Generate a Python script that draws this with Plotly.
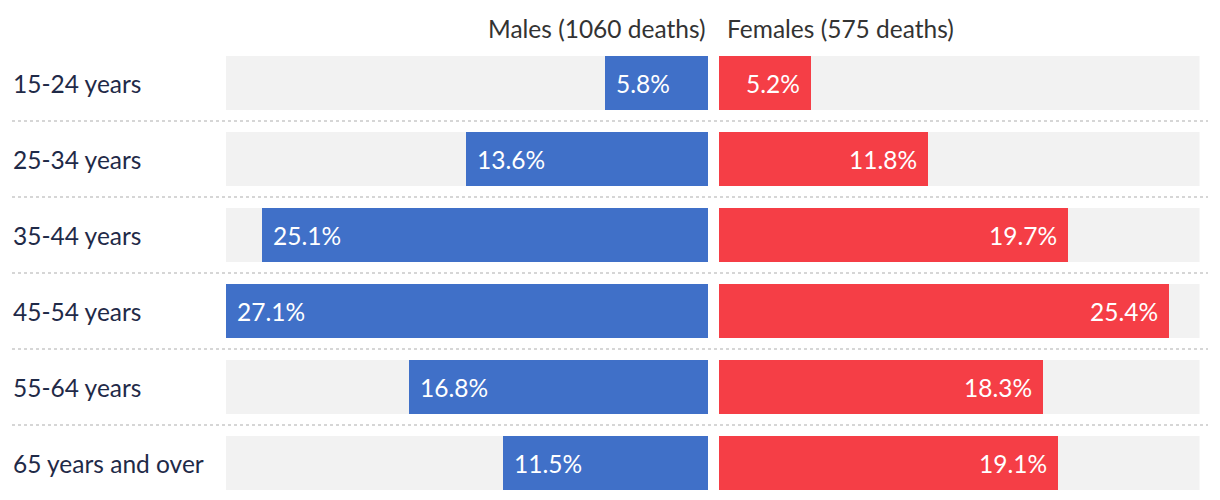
import plotly.graph_objects as go

categories = ["15-24 years", "25-34 years", "35-44 years", "45-54 years", "55-64 years", "65 years and over"]
males = [5.8, 13.6, 25.1, 27.1, 16.8, 11.5]
females = [5.2, 11.8, 19.7, 25.4, 18.3, 19.1]
male_title = "Males (1060 deaths)"
female_title = "Females (575 deaths)"
scale_max = 27.1

W, H = 1220, 500
FONT = "Lato"
FS = 24.5
BLUE = "#4070c8"
RED = "#f53e46"
BG = "#f2f2f2"
LABEL = "#1f2a48"

n = len(categories)
ypos = list(range(n))

fig = go.Figure()
fig.add_trace(go.Bar(y=ypos, x=males, orientation="h", marker=dict(color=BLUE, line=dict(width=0)),
                     xaxis="x", yaxis="y", width=54/76, hoverinfo="skip"))
fig.add_trace(go.Bar(y=ypos, x=females, orientation="h", marker=dict(color=RED, line=dict(width=0)),
                     xaxis="x2", yaxis="y", width=54/76, hoverinfo="skip"))

shapes = []
annotations = []
for i, c in enumerate(categories):
    for xr in ("x domain", "x2 domain"):
        shapes.append(dict(type="rect", xref=xr, yref="y", x0=0, x1=1, y0=i - 27/76, y1=i + 27/76,
                           fillcolor=BG, line=dict(width=0), layer="below"))
    if i < n - 1:
        shapes.append(dict(type="line", xref="paper", yref="y", x0=12/W, x1=1208/W, y0=i + 0.5, y1=i + 0.5,
                           line=dict(color="#d6d6d6", width=2, dash="dot")))
    annotations.append(dict(x=0, xref="paper", xshift=11, y=i, yref="y", text=c, showarrow=False,
                            xanchor="left", yanchor="middle", font=dict(family=FONT, size=FS, color=LABEL)))
    annotations.append(dict(x=males[i], xref="x", y=i, yref="y", text=f"{males[i]:.1f}%", showarrow=False,
                            xanchor="left", xshift=9, yanchor="middle",
                            font=dict(family=FONT, size=FS, color="white")))
    annotations.append(dict(x=females[i], xref="x2", y=i, yref="y", text=f"{females[i]:.1f}%", showarrow=False,
                            xanchor="right", xshift=-9, yanchor="middle",
                            font=dict(family=FONT, size=FS, color="white")))

annotations.append(dict(x=708/W, xref="paper", y=1 - 28/H, yref="paper", text=male_title, showarrow=False,
                        xanchor="right", yanchor="middle", font=dict(family=FONT, size=FS, color="#333333")))
annotations.append(dict(x=725/W, xref="paper", y=1 - 28/H, yref="paper", text=female_title, showarrow=False,
                        xanchor="left", yanchor="middle", font=dict(family=FONT, size=FS, color="#333333")))

top = (0 - 83) / 76
bot = (H - 83) / 76

fig.update_layout(
    width=W, height=H, margin=dict(l=0, r=0, t=0, b=0),
    paper_bgcolor="white", plot_bgcolor="white",
    barmode="overlay", showlegend=False, bargap=0,
    xaxis=dict(domain=[226/W, 708/W], range=[scale_max, 0], visible=False, fixedrange=True),
    xaxis2=dict(domain=[719/W, 1199.5/W], range=[0, scale_max], visible=False, fixedrange=True),
    yaxis=dict(domain=[0, 1], range=[bot, top], visible=False, fixedrange=True),
    shapes=shapes, annotations=annotations,
)

fig.write_html("out.html", config={"displayModeBar": False})
